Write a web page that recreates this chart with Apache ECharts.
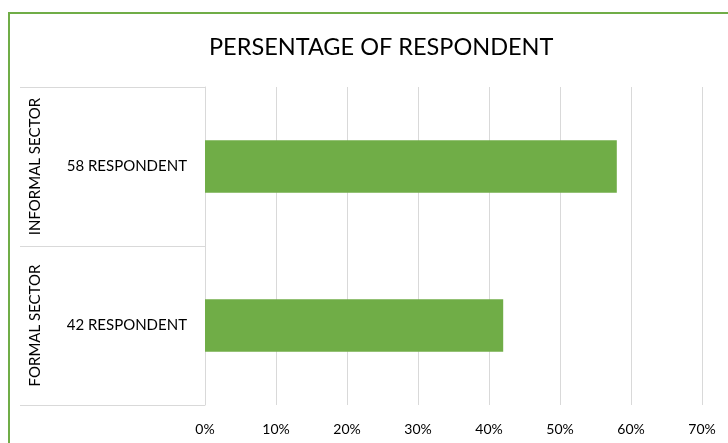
<!DOCTYPE html>
<html><head><meta charset="utf-8">
<script src="https://cdn.jsdelivr.net/npm/echarts@6/dist/echarts.min.js"></script>
<style>
html,body{margin:0;padding:0;width:728px;height:443px;overflow:hidden;background:#fff;}
#frame{position:absolute;left:8px;top:12px;width:760px;height:480px;border:2px solid #70ad47;box-sizing:border-box;}
#c{position:absolute;left:0;top:0;width:728px;height:443px;}
</style></head><body>
<div id="frame"></div>
<div id="c"></div>
<script>
const titleText = 'PERSENTAGE OF RESPONDENT';
const innerCategories = ['58 RESPONDENT', '42 RESPONDENT'];
const outerCategories = ['INFORMAL SECTOR', 'FORMAL SECTOR'];
const percentValues = [58, 42];
const xTicks = {min: 0, max: 70, interval: 10};

const font = 'Lato, "Open Sans", sans-serif';
const chart = echarts.init(document.getElementById('c'), null, {renderer: 'canvas'});
chart.setOption({
  backgroundColor: 'transparent',
  animation: false,
  title: {
    text: titleText, left: 204, top: 30,
    textStyle: {fontFamily: font, fontSize: 23.5, fontWeight: 'normal', color: '#000'}
  },
  grid: {left: 205, right: 26, top: 87, bottom: 38, containLabel: false},
  xAxis: {
    type: 'value', min: xTicks.min, max: xTicks.max, interval: xTicks.interval,
    axisLabel: {formatter: '{value}%', fontFamily: font, fontSize: 14, color: '#000', margin: 17},
    axisLine: {show: false}, axisTick: {show: false},
    splitLine: {show: true, lineStyle: {color: '#d9d9d9', width: 1}}
  },
  yAxis: [{
    type: 'category', data: innerCategories, inverse: true,
    axisLine: {show: true, lineStyle: {color: '#d9d9d9'}},
    axisTick: {show: true, length: 185, alignWithLabel: false, lineStyle: {color: '#d9d9d9'}},
    axisLabel: {fontFamily: font, fontSize: 15, color: '#000', margin: 18, interval: 0}
  }, {
    type: 'category', data: outerCategories, inverse: true, position: 'left', offset: 0,
    axisLine: {show: false}, axisTick: {show: false},
    axisLabel: {fontFamily: font, fontSize: 15, color: '#000', rotate: 90, margin: 162,
                interval: 0, hideOverlap: false}
  }],
  series: [{
    type: 'bar', data: percentValues, yAxisIndex: 0, barWidth: '33%',
    itemStyle: {color: '#70ad47'}
  }]
});
</script>
</body></html>
